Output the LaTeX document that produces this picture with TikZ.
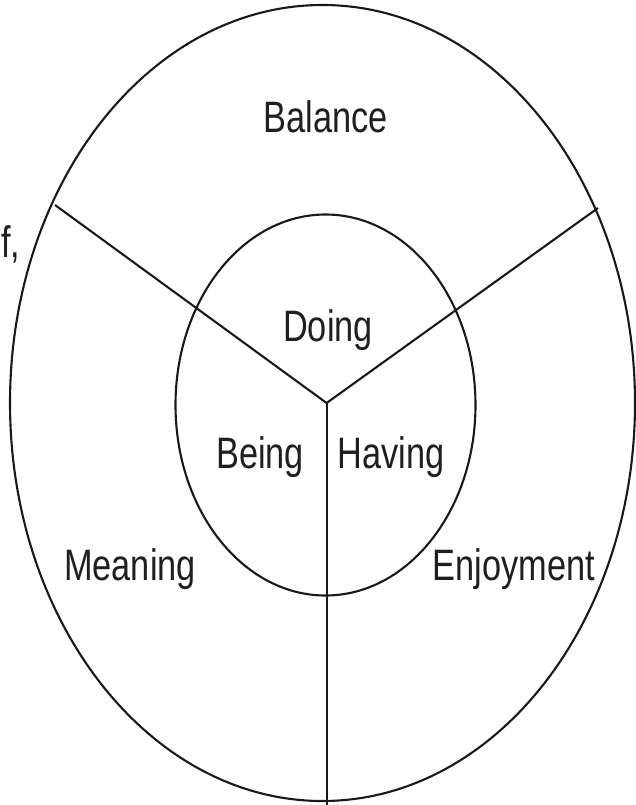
\documentclass[tikz,border=0pt]{standalone}
\usepackage{fontspec}
\setmainfont[FakeStretch=0.78]{Liberation Sans}
\begin{document}
\begin{tikzpicture}[x=1pt,y=-1pt,
  ring/.style={line width=2.1pt,draw=black!90},
  spoke/.style={line width=2.1pt,draw=black!90},
  lbl/.style={anchor=base,inner sep=0pt,text=black!88,font=\fontsize{44}{50}\selectfont}]
\useasboundingbox (0,0) rectangle (636,805);
\fill[white] (0,0) rectangle (636,805);
% rings
\draw[ring] (322.5,403) ellipse [x radius=312.5pt, y radius=398pt];
\draw[ring] (325.5,405) ellipse [x radius=150pt, y radius=190.5pt];
% spokes
\coordinate (c) at (326.6,403);
\coordinate (ul) at (55,205);
\coordinate (ur) at (598,208);
\coordinate (b) at (326.6,806);
\draw[spoke] (ul) -- (c) -- (ur);
\draw[spoke] (c) -- (b);
% labels
\node[lbl] (balance) at (326,133) {Balance};
\node[lbl] (doing) at (328,341) {Doing};
\node[lbl] (being) at (260,468) {Being};
\node[lbl] (having) at (391,468) {Having};
\node[lbl] (meaning) at (130,580) {Meaning};
\node[lbl] (enjoy) at (514,580) {Enjoyment};
\node[lbl,anchor=base west] (f) at (1,257) {f,};
\end{tikzpicture}
\end{document}
